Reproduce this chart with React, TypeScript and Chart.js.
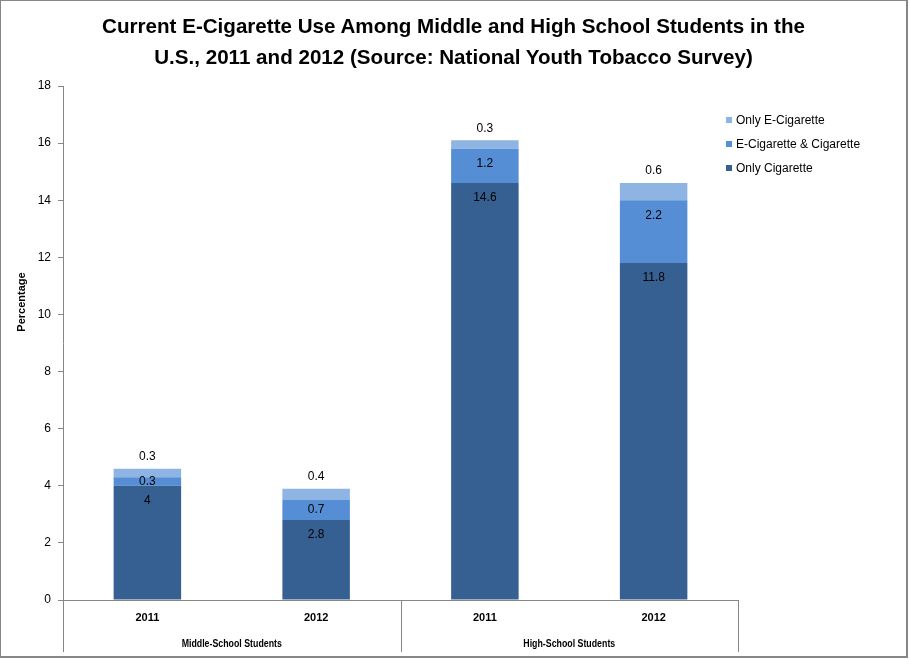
import React, { useEffect, useRef } from "react";
import { Chart, registerables } from "chart.js";

Chart.register(...registerables);

// categories (two-level axis: year within school level)
const years = ["2011", "2012", "2011", "2012"];
const groups = ["Middle-School Students", "High-School Students"];

// series values, percent of students
const onlyCigarette = [4, 2.8, 14.6, 11.8];
const eCigAndCigarette = [0.3, 0.7, 1.2, 2.2];
const onlyECigarette = [0.3, 0.4, 0.3, 0.6];

const seriesNames = ["Only Cigarette", "E-Cigarette & Cigarette", "Only E-Cigarette"];
const seriesColors = ["#376092", "#558ED5", "#8EB4E3"];

const titleLines = [
  "Current E-Cigarette Use Among Middle and High School Students in the",
  "U.S., 2011 and 2012 (Source: National Youth Tobacco Survey)",
];

const SANS = '"Liberation Sans", Arial, sans-serif';
const AXIS_GREY = "#868686";

// draws value labels like Excel does (inside end, or above the top segment)
const valueLabels = {
  id: "valueLabels",
  afterDatasetsDraw(chart: Chart) {
    const ctx = chart.ctx;
    ctx.save();
    ctx.font = `12px ${SANS}`;
    ctx.fillStyle = "#000";
    ctx.textAlign = "center";
    ctx.textBaseline = "middle";
    const last = chart.data.datasets.length - 1;
    chart.data.datasets.forEach((ds, di) => {
      const meta = chart.getDatasetMeta(di);
      meta.data.forEach((bar: any, i) => {
        const v = ds.data[i] as number;
        const top = bar.y;
        const h = bar.base - bar.y;
        const y = di === last ? top - 12 : top + Math.min(15, h / 2);
        ctx.fillText(String(v), bar.x, y);
      });
    });
    ctx.restore();
  },
};

// second category level, separators and the y-axis title
const groupAxis = {
  id: "groupAxis",
  afterDraw(chart: Chart) {
    const ctx = chart.ctx;
    const x = chart.scales.x;
    const bottom = chart.chartArea.bottom;
    const per = years.length / groups.length;
    const catW = (x.right - x.left) / years.length;
    ctx.save();
    ctx.strokeStyle = AXIS_GREY;
    ctx.lineWidth = 1;
    for (let g = 0; g <= groups.length; g++) {
      const px = Math.round(x.left + g * per * catW) + 0.5;
      ctx.beginPath();
      ctx.moveTo(px, bottom);
      ctx.lineTo(px, bottom + 52);
      ctx.stroke();
    }
    ctx.fillStyle = "#000";
    ctx.font = `bold 11px ${SANS}`;
    ctx.textAlign = "center";
    ctx.textBaseline = "middle";
    groups.forEach((g, i) => {
      const cx = x.left + (i + 0.5) * per * catW;
      ctx.save();
      ctx.translate(cx, bottom + 44);
      ctx.scale(0.8, 1);
      ctx.fillText(g, 0, 0);
      ctx.restore();
    });
    // y axis title
    ctx.translate(21, 301);
    ctx.rotate(-Math.PI / 2);
    ctx.fillText("Percentage", 0, 0);
    ctx.restore();
  },
};

const StackedChart: React.FC = () => {
  const chartRef = useRef<HTMLCanvasElement>(null);
  const chartInstance = useRef<Chart | null>(null);

  useEffect(() => {
    if (!chartRef.current) return;
    const ctx = chartRef.current.getContext("2d");
    if (!ctx) return;
    if (chartInstance.current) chartInstance.current.destroy();

    const values = [onlyCigarette, eCigAndCigarette, onlyECigarette];

    chartInstance.current = new Chart(ctx, {
      type: "bar",
      data: {
        labels: years,
        datasets: values.map((data, i) => ({
          label: seriesNames[i],
          data,
          backgroundColor: seriesColors[i],
          borderWidth: 0,
          barPercentage: 0.4,
          categoryPercentage: 1,
        })),
      },
      options: {
        animation: false,
        responsive: false,
        maintainAspectRatio: false,
        layout: { padding: { left: 0, right: 168, top: 85, bottom: 0 } },
        plugins: {
          legend: { display: false },
          tooltip: { enabled: false },
          title: { display: false },
        },
        scales: {
          x: {
            stacked: true,
            grid: { display: false, drawTicks: false },
            border: { display: true, color: AXIS_GREY },
            ticks: {
              color: "#000",
              font: { family: SANS, size: 11, weight: "bold" },
              padding: 11,
            },
            afterFit: (s: any) => {
              s.height = 56;
            },
          },
          y: {
            stacked: true,
            min: 0,
            max: 18,
            grid: {
              drawOnChartArea: false,
              drawTicks: true,
              tickLength: 5,
              color: AXIS_GREY,
            },
            border: { display: true, color: AXIS_GREY },
            ticks: {
              stepSize: 2,
              color: "#000",
              font: { family: SANS, size: 12 },
              padding: 7,
            },
            afterFit: (s: any) => {
              s.width = 62;
            },
          },
        },
      },
      plugins: [valueLabels, groupAxis],
    });

    return () => {
      if (chartInstance.current) {
        chartInstance.current.destroy();
        chartInstance.current = null;
      }
    };
  }, []);

  const legendOrder = [2, 1, 0];

  return (
    <div
      style={{
        position: "absolute",
        left: 0,
        top: 0,
        width: 908,
        height: 658,
        boxSizing: "border-box",
        borderTop: `1px solid ${AXIS_GREY}`,
        borderLeft: `1px solid ${AXIS_GREY}`,
        borderRight: `2px solid ${AXIS_GREY}`,
        borderBottom: `2px solid ${AXIS_GREY}`,
        background: "#fff",
      }}
    >
      <canvas ref={chartRef} width={905} height={655} style={{ display: "block" }}></canvas>
      <div
        style={{
          position: "absolute",
          left: 0,
          top: 9,
          width: 905,
          textAlign: "center",
          font: `bold 20.6px ${SANS}`,
          lineHeight: "31px",
          color: "#000",
        }}
      >
        {titleLines.map((t) => (
          <div key={t}>{t}</div>
        ))}
      </div>
      <div style={{ position: "absolute", left: 725, top: 107 }}>
        {legendOrder.map((i) => (
          <div
            key={seriesNames[i]}
            style={{
              display: "flex",
              alignItems: "center",
              height: 24,
              font: `12px ${SANS}`,
              color: "#000",
            }}
          >
            <span
              style={{
                display: "inline-block",
                width: 6,
                height: 6,
                background: seriesColors[i],
                marginRight: 4,
              }}
            ></span>
            {seriesNames[i]}
          </div>
        ))}
      </div>
    </div>
  );
};

export default function App() {
  return <StackedChart />;
}
